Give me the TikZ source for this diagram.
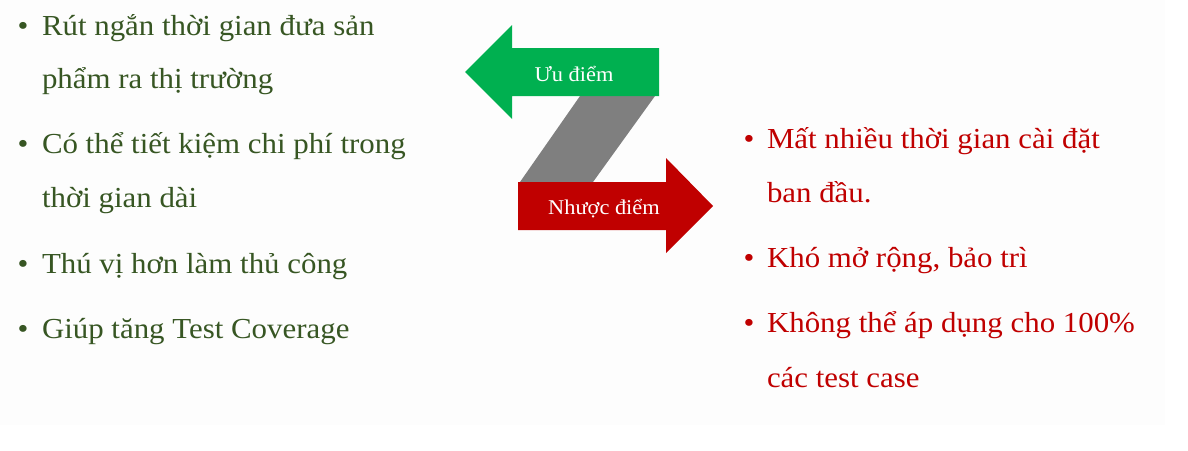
\documentclass[tikz,border=0pt]{standalone}
\usepackage{fontspec}
\setmainfont[FakeStretch=1.065]{Liberation Serif}
\definecolor{greentext}{HTML}{375623}
\definecolor{redtext}{HTML}{C00000}
\definecolor{arrowgreen}{HTML}{00B050}
\definecolor{arrowred}{HTML}{C00000}
\definecolor{zgray}{HTML}{7F7F7F}
\definecolor{bgfaint}{HTML}{FDFDFD}
\begin{document}
\begin{tikzpicture}[x=1pt,y=-1pt, inner sep=0pt, outer sep=0pt,
  item/.style={anchor=base west, font=\fontsize{29}{35}\selectfont},
  pro/.style={item, text=greentext},
  con/.style={item, text=redtext},
  bul/.style={anchor=base, font=\fontsize{29}{35}\selectfont},
  lab/.style={anchor=base, text=white, font=\fontsize{21}{25}\selectfont}]
\useasboundingbox (0,0) rectangle (1188,450);
\fill[white] (0,0) rectangle (1188,450);
\fill[bgfaint] (0,0) rectangle (1165,425);
% Z connector
\fill[zgray] (580,96) -- (655,96) -- (593,182) -- (520,182) -- cycle;
% arrows
\fill[arrowgreen] (465,72) -- (512,25) -- (512,48) -- (659,48) -- (659,96) -- (512,96) -- (512,119) -- cycle;
\fill[arrowred] (518,182) -- (666,182) -- (666,158) -- (713,206) -- (666,253) -- (666,230) -- (518,230) -- cycle;
\node[lab] (pros) at (574,81) {Ưu điểm};
\node[lab] (cons) at (604,214) {Nhược điểm};
% left list
\node[bul, text=greentext] (b1) at (23,35) {•};
\node[pro] (p1a) at (42,35) {Rút ngắn thời gian đưa sản};
\node[pro] (p1b) at (42,88) {phẩm ra thị trường};
\node[bul, text=greentext] (b2) at (23,153) {•};
\node[pro] (p2a) at (42,153) {Có thể tiết kiệm chi phí trong};
\node[pro] (p2b) at (42,207) {thời gian dài};
\node[bul, text=greentext] (b3) at (23,273) {•};
\node[pro] (p3) at (42,273) {Thú vị hơn làm thủ công};
\node[bul, text=greentext] (b4) at (23,338) {•};
\node[pro] (p4) at (42,338) {Giúp tăng Test Coverage};
% right list
\node[bul, text=redtext] (c1b) at (749,148) {•};
\node[con] (c1a) at (767,148) {Mất nhiều thời gian cài đặt};
\node[con] (c1c) at (767,202) {ban đầu.};
\node[bul, text=redtext] (c2b) at (749,267) {•};
\node[con] (c2) at (767,267) {Khó mở rộng, bảo trì};
\node[bul, text=redtext] (c3b) at (749,332) {•};
\node[con] (c3a) at (767,332) {Không thể áp dụng cho 100\%};
\node[con] (c3c) at (767,387) {các test case};
\end{tikzpicture}
\end{document}
